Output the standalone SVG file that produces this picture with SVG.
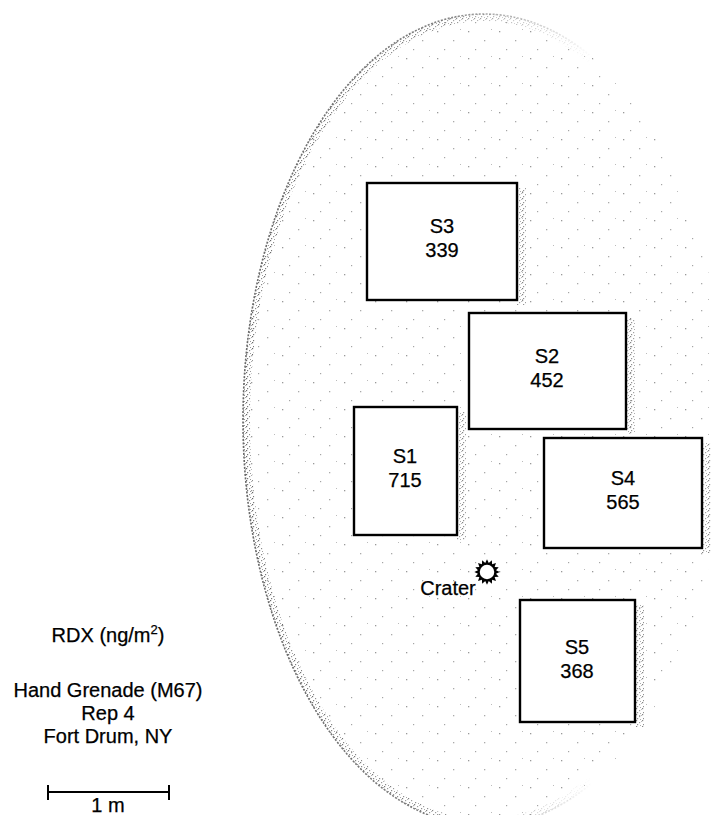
<svg xmlns="http://www.w3.org/2000/svg" width="713" height="815" viewBox="0 0 713 815">
<style>
.box{fill:#fff;stroke:#000;stroke-width:2.4}
.shadow{fill:url(#dense);opacity:0.8}
.t{font-family:"Liberation Sans",Arial,sans-serif;font-size:20px;fill:#000;stroke:#000;stroke-width:0.25;text-anchor:middle}
</style>
<defs>
<pattern id="sparse" width="31" height="27" patternUnits="userSpaceOnUse">
<rect x="3" y="4" width="1.3" height="1.3" fill="#999"/>
<rect x="19" y="13" width="1.3" height="1.3" fill="#aaa"/>
<rect x="10" y="22" width="1.2" height="1.2" fill="#a5a5a5"/>
<rect x="26" y="2" width="1" height="1" fill="#bbb"/>
</pattern>
<pattern id="dense" width="6" height="6" patternUnits="userSpaceOnUse">
<rect x="0" y="0" width="1.2" height="1.2" fill="#666"/>
<rect x="3" y="2" width="1.2" height="1.2" fill="#888"/>
<rect x="1" y="4" width="1.2" height="1.2" fill="#777"/>
<rect x="4" y="5" width="1" height="1" fill="#999"/>
<rect x="5" y="1" width="1" height="1" fill="#aaa"/>
</pattern>
<linearGradient id="fade" x1="0" y1="0" x2="1" y2="0">
<stop offset="0" stop-color="#fff" stop-opacity="1"/>
<stop offset="0.45" stop-color="#fff" stop-opacity="0.8"/>
<stop offset="0.75" stop-color="#fff" stop-opacity="0"/>
</linearGradient>
<mask id="edgeMask" maskUnits="userSpaceOnUse" x="230" y="0" width="483" height="815">
<rect x="230" y="0" width="483" height="815" fill="url(#fade)"/>
</mask>
<clipPath id="ell"><ellipse cx="484" cy="420" rx="241" ry="406"/></clipPath>
</defs>
<rect width="713" height="815" fill="#fff"/>

<g id="area">
<ellipse cx="484" cy="420" rx="241" ry="406" fill="url(#sparse)"/>
<ellipse cx="484" cy="420" rx="241" ry="406" fill="none" stroke="url(#dense)" stroke-width="14" clip-path="url(#ell)" mask="url(#edgeMask)"/>
<ellipse cx="484" cy="420" rx="241" ry="406" fill="none" stroke="#666" stroke-width="1.6" stroke-dasharray="2 1.5" mask="url(#edgeMask)"/>
</g>

<g id="S3">
<rect class="shadow" x="517" y="188" width="9" height="117"/>
<rect class="box" x="367" y="183" width="150" height="117"/>
<text class="t" x="442" y="233">S3</text>
<text class="t" x="442" y="257">339</text>
</g>
<g id="S2">
<rect class="shadow" x="626" y="318" width="9" height="116"/>
<rect class="box" x="469" y="313" width="157" height="116"/>
<text class="t" x="547" y="363">S2</text>
<text class="t" x="547" y="387">452</text>
</g>
<g id="S1">
<rect class="shadow" x="457" y="412" width="9" height="128"/>
<rect class="box" x="354" y="407" width="103" height="128"/>
<text class="t" x="405" y="463">S1</text>
<text class="t" x="405" y="487">715</text>
</g>
<g id="S4">
<rect class="shadow" x="702" y="443" width="9" height="110"/>
<rect class="box" x="544" y="438" width="158" height="110"/>
<text class="t" x="623" y="485">S4</text>
<text class="t" x="623" y="509">565</text>
</g>
<g id="S5">
<rect class="shadow" x="635" y="605" width="9" height="122"/>
<rect class="box" x="520" y="600" width="115" height="122"/>
<text class="t" x="577" y="654">S5</text>
<text class="t" x="577" y="678">368</text>
</g>

<g id="crater">
<g transform="translate(487,572) scale(1.15)">
<polygon fill="#000" points="11,0 7.85,1.56 10.16,4.21 6.65,4.44 7.78,7.78 4.44,6.65 4.21,10.16 1.56,7.85 0,11 -1.56,7.85 -4.21,10.16 -4.44,6.65 -7.78,7.78 -6.65,4.44 -10.16,4.21 -7.85,1.56 -11,0 -7.85,-1.56 -10.16,-4.21 -6.65,-4.44 -7.78,-7.78 -4.44,-6.65 -4.21,-10.16 -1.56,-7.85 0,-11 1.56,-7.85 4.21,-10.16 4.44,-6.65 7.78,-7.78 6.65,-4.44 10.16,-4.21 7.85,-1.56"/>
<circle r="6.3" fill="#fff"/>
</g>
<text class="t" x="448" y="595">Crater</text>
</g>

<g id="legend">
<text class="t" x="108" y="642">RDX (ng/m<tspan font-size="13" dy="-8">2</tspan><tspan dy="8">)</tspan></text>
<text class="t" x="108" y="697">Hand Grenade (M67)</text>
<text class="t" x="108" y="720">Rep 4</text>
<text class="t" x="108" y="743">Fort Drum, NY</text>
</g>

<g id="scalebar">
<line x1="48" y1="792" x2="169" y2="792" stroke="#000" stroke-width="2"/>
<line x1="48" y1="785" x2="48" y2="800" stroke="#000" stroke-width="2"/>
<line x1="169" y1="785" x2="169" y2="800" stroke="#000" stroke-width="2"/>
<text class="t" x="108" y="812">1 m</text>
</g>
</svg>
